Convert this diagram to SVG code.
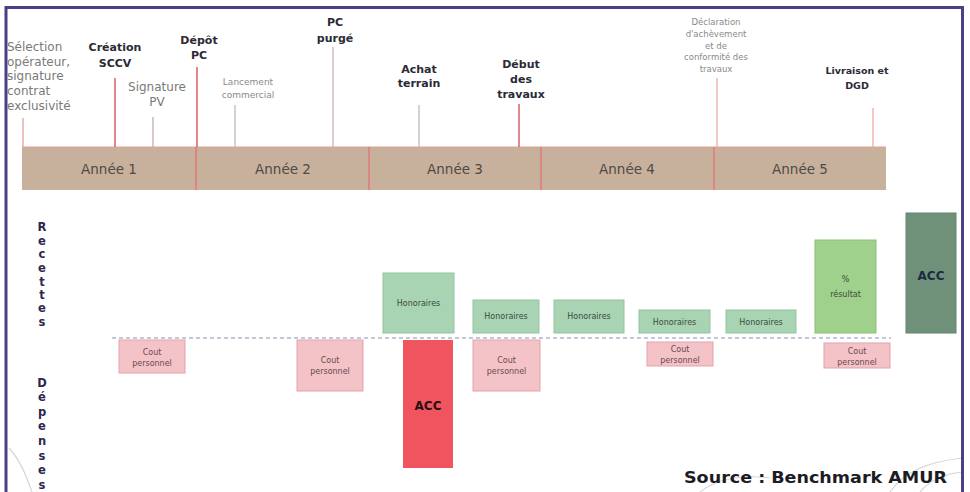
<svg xmlns="http://www.w3.org/2000/svg" width="970" height="492" viewBox="0 0 970 492">
<style>
text{font-family:"DejaVu Sans","Liberation Sans",sans-serif;}
.lbl{font-size:12px;fill:#7a7a7a;}
.sm{font-size:9px;fill:#8a8a8a;}
.b{font-size:11px;font-weight:bold;fill:#2a2a35;}
.yr{font-size:13.5px;fill:#4e4a46;}
.ax{font-size:11.5px;font-weight:bold;fill:#2c2750;}
.g{fill:#a9d4b4;stroke:#93c3a0;stroke-width:1;}
.p{fill:#f3c3c8;stroke:#e3a3ab;stroke-width:1;}
.bt{font-size:8px;fill:#3a4a40;}
.pt{font-size:8px;fill:#6a4a4e;}
.tk{stroke-width:1.4;fill:none;}
</style>
<rect x="0" y="0" width="970" height="492" fill="#ffffff"/>
<!-- decorative swooshes -->
<g id="decor" fill="none" stroke="#d6d6d6" stroke-width="1.2">
<path d="M9 448 C 20 460, 26 475, 32 492"/>
<path d="M700 492 C 715 480, 740 474, 770 478"/>
<path d="M890 492 C 905 470, 930 462, 962 458"/>
<path d="M920 492 C 930 480, 945 474, 962 472"/>
</g>
<!-- frame -->
<rect id="frame" x="6" y="7.5" width="956.5" height="492" fill="none" stroke="#4b3f86" stroke-width="3"/>

<!-- timeline bar -->
<g id="timeline">
<rect x="22" y="147" width="864" height="43" fill="#c8b19c"/>
<line x1="22" y1="147" x2="886" y2="147" stroke="#e2a09a" stroke-width="1.2"/>
<g stroke="#e07a7a" stroke-width="1.5">
<line x1="196" y1="147" x2="196" y2="190"/>
<line x1="369" y1="147" x2="369" y2="190"/>
<line x1="541" y1="147" x2="541" y2="190"/>
<line x1="714" y1="147" x2="714" y2="190"/>
</g>
<g class="yr" text-anchor="middle">
<text x="109" y="174">Année 1</text>
<text x="283" y="174">Année 2</text>
<text x="455" y="174">Année 3</text>
<text x="627" y="174">Année 4</text>
<text x="800" y="174">Année 5</text>
</g>
</g>

<!-- milestone ticks -->
<g id="connectors">
<line class="tk" x1="23" y1="118" x2="23" y2="147" stroke="#e8a8a8"/>
<line class="tk" x1="115" y1="78" x2="115" y2="147" stroke="#d9545c"/>
<line class="tk" x1="153" y1="117" x2="153" y2="147" stroke="#c9b3b3"/>
<line class="tk" x1="197" y1="67" x2="197" y2="147" stroke="#d9545c"/>
<line class="tk" x1="235" y1="105" x2="235" y2="147" stroke="#c9bcbc"/>
<line class="tk" x1="333" y1="47" x2="333" y2="147" stroke="#d4b4b4"/>
<line class="tk" x1="419" y1="105" x2="419" y2="147" stroke="#c9bcbc"/>
<line class="tk" x1="519" y1="104" x2="519" y2="147" stroke="#d9545c"/>
<line class="tk" x1="717" y1="78" x2="717" y2="147" stroke="#ecb0b0"/>
<line class="tk" x1="873" y1="108" x2="873" y2="147" stroke="#ecb0b0"/>
<line x1="112" y1="338" x2="891" y2="338" stroke="#8c90ad" stroke-width="1" stroke-dasharray="4 3"/>
</g>

<!-- milestone labels -->
<g id="m-selection" class="lbl">
<text x="7" y="51">Sélection</text>
<text x="7" y="66">opérateur,</text>
<text x="7" y="80">signature</text>
<text x="7" y="95">contrat</text>
<text x="7" y="110">exclusivité</text>
</g>
<g id="m-sccv" class="b" text-anchor="middle">
<text x="115" y="51">Création</text>
<text x="115" y="67">SCCV</text>
</g>
<g id="m-pv" class="lbl" text-anchor="middle">
<text x="157" y="91">Signature</text>
<text x="157" y="106">PV</text>
</g>
<g id="m-depot" class="b" text-anchor="middle">
<text x="199" y="44">Dépôt</text>
<text x="199" y="59">PC</text>
</g>
<g id="m-lancement" class="sm" text-anchor="middle">
<text x="248" y="85">Lancement</text>
<text x="248" y="98">commercial</text>
</g>
<g id="m-purge" class="b" text-anchor="middle">
<text x="335" y="26">PC</text>
<text x="335" y="42">purgé</text>
</g>
<g id="m-achat" class="b" text-anchor="middle">
<text x="419" y="73">Achat</text>
<text x="419" y="87">terrain</text>
</g>
<g id="m-debut" class="b" text-anchor="middle">
<text x="521" y="68">Début</text>
<text x="521" y="83">des</text>
<text x="521" y="98">travaux</text>
</g>
<g id="m-declaration" class="sm" text-anchor="middle" style="font-size:8.5px">
<text x="716" y="25">Déclaration</text>
<text x="716" y="37">d'achèvement</text>
<text x="716" y="49">et de</text>
<text x="716" y="60">conformité des</text>
<text x="716" y="72">travaux</text>
</g>
<g id="m-livraison" class="b" text-anchor="middle" style="font-size:9.5px">
<text x="857" y="74">Livraison et</text>
<text x="857" y="89">DGD</text>
</g>

<!-- axis labels -->
<g id="axis-recettes" class="ax" text-anchor="middle">
<text x="42" y="231">R</text>
<text x="42" y="245">e</text>
<text x="42" y="258">c</text>
<text x="42" y="272">e</text>
<text x="42" y="286">t</text>
<text x="42" y="299">t</text>
<text x="42" y="312">e</text>
<text x="42" y="326">s</text>
</g>
<g id="axis-depenses" class="ax" text-anchor="middle">
<text x="42" y="387">D</text>
<text x="42" y="401">é</text>
<text x="42" y="416">p</text>
<text x="42" y="430">e</text>
<text x="42" y="445">n</text>
<text x="42" y="460">s</text>
<text x="42" y="474">e</text>
<text x="42" y="489">s</text>
</g>

<!-- receipts -->
<g id="hon1"><rect class="g" x="383" y="273" width="71" height="60"/><text class="bt" x="418.5" y="306" text-anchor="middle">Honoraires</text></g>
<g id="hon2"><rect class="g" x="473" y="300" width="66" height="33"/><text class="bt" x="506" y="319" text-anchor="middle">Honoraires</text></g>
<g id="hon3"><rect class="g" x="554" y="300" width="70" height="33"/><text class="bt" x="589" y="319" text-anchor="middle">Honoraires</text></g>
<g id="hon4"><rect class="g" x="639" y="310" width="71" height="23"/><text class="bt" x="674.5" y="325" text-anchor="middle">Honoraires</text></g>
<g id="hon5"><rect class="g" x="726" y="310" width="70" height="23"/><text class="bt" x="761" y="325" text-anchor="middle">Honoraires</text></g>
<g id="resultat"><rect x="815" y="240" width="61" height="93" fill="#9fd18c" stroke="#8cc07a" stroke-width="1"/><text class="bt" x="845.5" y="282" text-anchor="middle">%</text><text class="bt" x="845.5" y="297" text-anchor="middle">résultat</text></g>
<g id="acc-recette"><rect x="906" y="213" width="50" height="120" fill="#6f917a" stroke="#638670" stroke-width="1"/><text x="931" y="280" text-anchor="middle" style="font-size:12px;font-weight:bold;fill:#1f2a44">ACC</text></g>

<!-- expenses -->
<g id="cout1"><rect class="p" x="119" y="340" width="66" height="33"/><text class="pt" x="152" y="355" text-anchor="middle">Cout</text><text class="pt" x="152" y="366" text-anchor="middle">personnel</text></g>
<g id="cout2"><rect class="p" x="297" y="340" width="66" height="51"/><text class="pt" x="330" y="363" text-anchor="middle">Cout</text><text class="pt" x="330" y="374" text-anchor="middle">personnel</text></g>
<g id="acc-depense"><rect x="403" y="340" width="50" height="128" fill="#f0545f"/><text x="428" y="410" text-anchor="middle" style="font-size:12px;font-weight:bold;fill:#2a1010">ACC</text></g>
<g id="cout3"><rect class="p" x="473" y="340" width="67" height="51"/><text class="pt" x="506.5" y="363" text-anchor="middle">Cout</text><text class="pt" x="506.5" y="374" text-anchor="middle">personnel</text></g>
<g id="cout4"><rect class="p" x="647" y="342" width="66" height="24"/><text class="pt" x="680" y="352" text-anchor="middle">Cout</text><text class="pt" x="680" y="363" text-anchor="middle">personnel</text></g>
<g id="cout5"><rect class="p" x="824" y="343" width="66" height="25"/><text class="pt" x="857" y="354" text-anchor="middle">Cout</text><text class="pt" x="857" y="365" text-anchor="middle">personnel</text></g>

<text id="source" x="684" y="483" textLength="263" lengthAdjust="spacingAndGlyphs" style="font-size:16px;font-weight:bold;fill:#1c1c24">Source :  Benchmark AMUR</text>
</svg>
